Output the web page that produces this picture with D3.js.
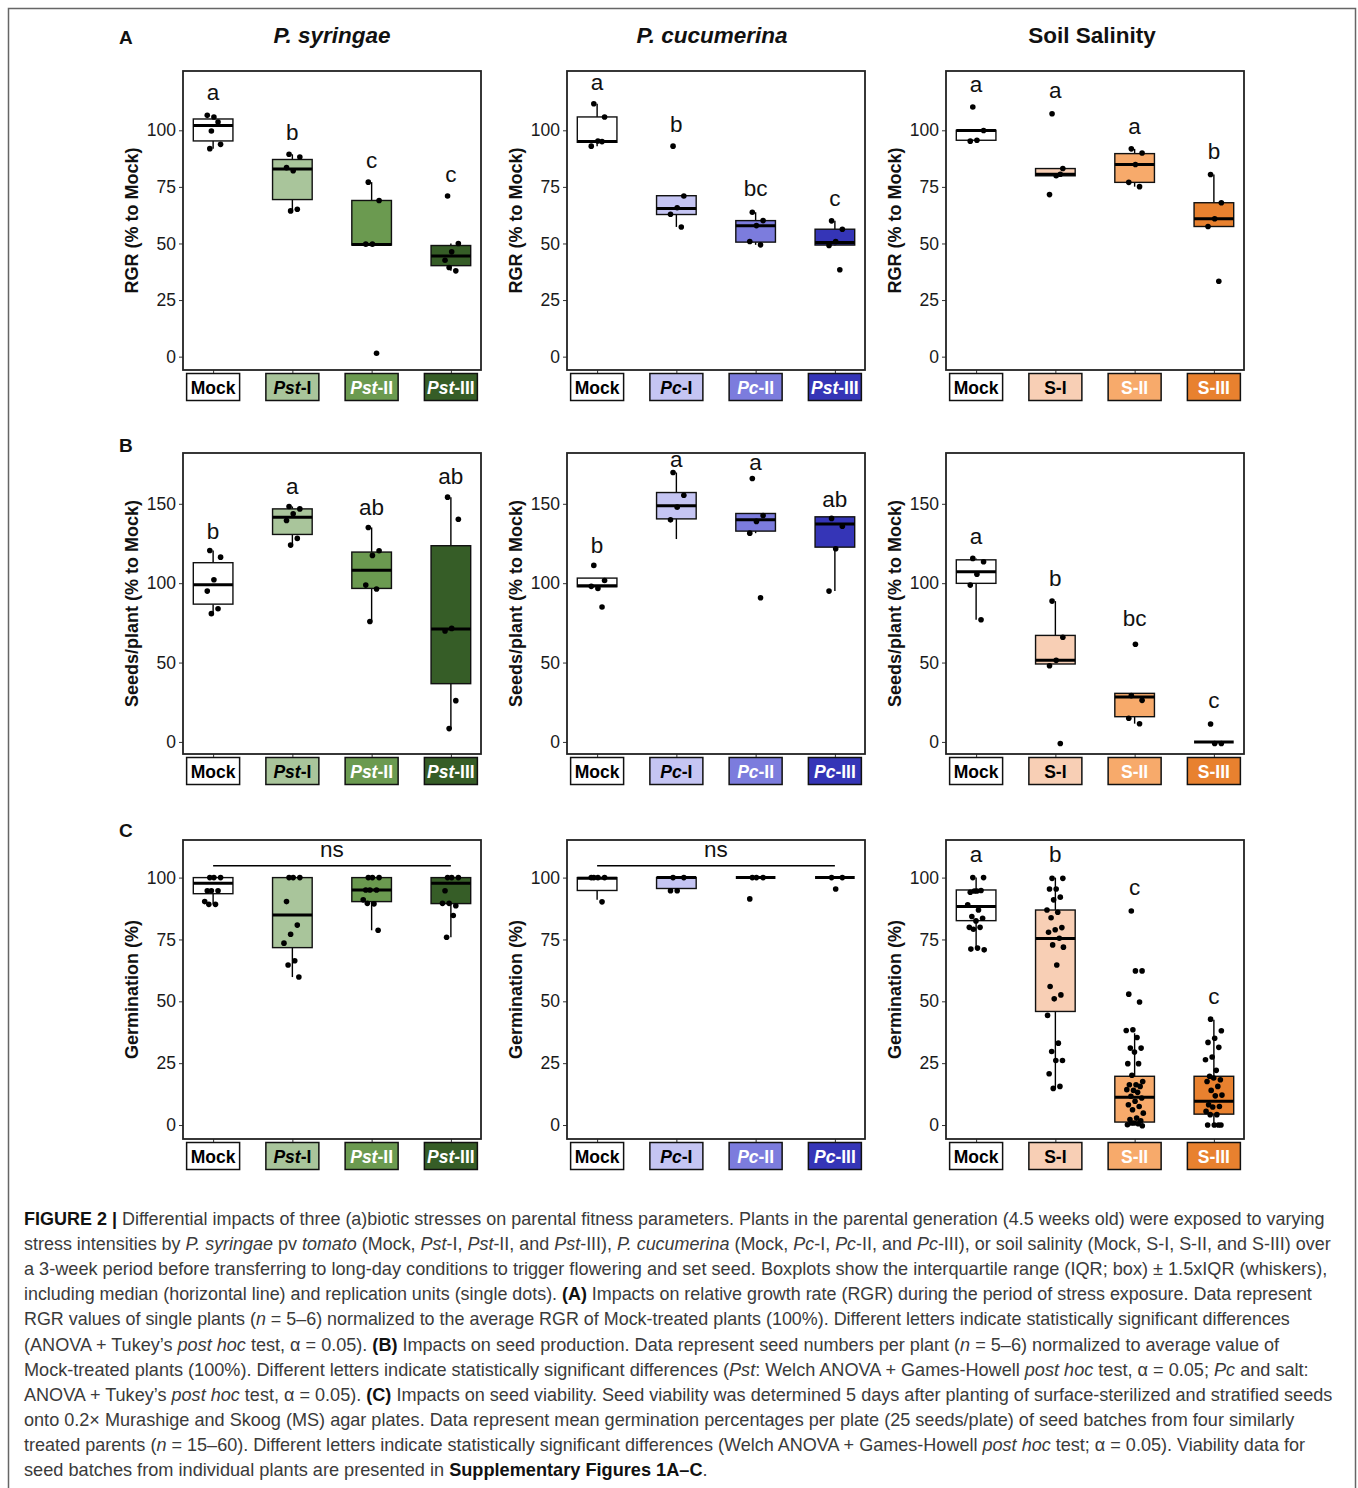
<!DOCTYPE html>
<html lang="en">
<head>
<meta charset="UTF-8">
<title>Figure 2</title>
<script src="https://cdn.jsdelivr.net/npm/d3@7"></script>
<style>
body { margin: 0; background: #fff; }
svg text { font-family: "Liberation Sans", Arial, Helvetica, sans-serif; }
</style>
</head>
<body>
<svg id="fig" width="1358" height="1488"></svg>
<script>
// ---- groups / labels ----
var pstGroups = ["Mock", "Pst-I", "Pst-II", "Pst-III"];
var pcGroups = ["Mock", "Pc-I", "Pc-II", "Pc-III"];
var pcGroupsA = ["Mock", "Pc-I", "Pc-II", "Pst-III"]; // as printed in panel A
var saltGroups = ["Mock", "S-I", "S-II", "S-III"];

var pstColors = ["#ffffff", "#a9c59b", "#6b9a50", "#365d27"];
var pcColors = ["#ffffff", "#c5c5f3", "#7c7cdd", "#3535b7"];
var saltColors = ["#ffffff", "#f8cfb5", "#f7aa6b", "#e8812f"];

var colTitles = ["P. syringae", "P. cucumerina", "Soil Salinity"];
var rowLetters = ["A", "B", "C"];
var yLabels = ["RGR (% to Mock)", "Seeds/plant (% to Mock)", "Germination (%)"];
var yTicksA = [0, 25, 50, 75, 100];
var yTicksB = [0, 50, 100, 150];
var yTicksC = [0, 25, 50, 75, 100];

// box stats: [lower whisker, q1, median, q3, upper whisker]
// ---- A: RGR ----
var rgrPstBox = [[91.9, 95.3, 102.1, 105, 106.6], [64.4, 69.4, 82.9, 87.1, 89.4], [49.3, 49.3, 49.6, 69, 77.1], [37.9, 40.2, 44.5, 49.1, 50]];
var rgrPstPts = [[91.9, 93.8, 105.9, 106.6, 103.7, 99.7], [89.4, 88.2, 82.1, 83.5, 65.1, 64.4], [77.1, 69, 49.7, 49.7, 1.5], [71, 50, 46.3, 42.6, 37.9, 39.4]];
var rgrPstLetters = [["a", 113.2], ["b", 95.9], ["c", 83.5], ["c", 77.2]];

var rgrPcBox = [[93, 94.7, 95, 105.9, 111.7], [57.3, 62.8, 65.5, 71.1, 71.1], [49.4, 50.6, 57.8, 60.1, 63.8], [49.1, 49.3, 50.4, 56.3, 60]];
var rgrPcPts = [[111.7, 105.9, 95.3, 93, 95], [93, 71, 65.8, 62.9, 57.3], [63.8, 60.1, 57.9, 50.9, 49.4], [60, 56.3, 50.9, 49.1, 38.4]];
var rgrPcLetters = [["a", 117.6], ["b", 99.3], ["bc", 70.9], ["c", 66.6]];

var rgrSaltBox = [[95.6, 95.6, 99.9, 100, 100], [79.9, 79.9, 80.6, 83.1, 83.1], [75.1, 77, 84.9, 89.7, 91.8], [57.5, 57.5, 60.9, 68, 80.5]];
var rgrSaltPts = [[110.3, 99.9, 95.6, 95.2], [107.3, 83.1, 79.9, 71.6, 80.6], [91.8, 90, 84.9, 77, 75.1], [80.5, 68, 60.9, 57.5, 33.3]];
var rgrSaltLetters = [["a", 116.9], ["a", 114.3], ["a", 98.2], ["b", 87.5]];

// ---- B: seeds per plant ----
var seedPstBox = [[80.8, 86.8, 99, 112.9, 120.6], [124, 130.7, 141.6, 146.8, 148.3], [75.9, 96.7, 108.2, 119.6, 135.1], [8.4, 36.7, 71.1, 123.6, 154.2]];
var seedPstPts = [[120.6, 116.4, 102.2, 95, 83.9, 80.8], [148.3, 146.8, 143.7, 139.5, 128.2, 124], [135.1, 120.4, 117.5, 98.8, 96.3, 75.9], [154.2, 140.3, 71.5, 69.9, 26, 8.4]];
var seedPstLetters = [["b", 128.1], ["a", 156.4], ["ab", 143.1], ["ab", 162.5]];

var seedPcBox = [[97.8, 97.8, 98.4, 103.2, 103.2], [127.8, 140.5, 148.7, 157.1, 169.7], [131.5, 132.8, 139.9, 143.9, 143.9], [95, 122.7, 137.2, 141.8, 141.8]];
var seedPcPts = [[111.2, 101.7, 96.7, 98, 85], [169.7, 155.4, 147.9, 139.9], [165.9, 142.6, 138.9, 131.5, 90.8], [140.8, 135.9, 121.7, 95]];
var seedPcLetters = [["b", 119], ["a", 173.2], ["a", 171.5], ["ab", 148]];

var seedSaltBox = [[77, 99.9, 107.2, 114.7, 115.6], [49.1, 49.1, 51.4, 67.1, 88.7], [11.5, 15.9, 28.3, 30.6, 30.6], [0, 0, 0, 0, 0]];
var seedSaltPts = [[115.6, 113.5, 105.7, 98.8, 77], [88.7, 65.9, 51.4, 48, -1], [29.2, 26.2, 61.5, 14.9, 11.5], [11.3, -1, -1]];
var seedSaltLetters = [["a", 124.7], ["b", 98], ["bc", 73.2], ["c", 21.4]];

// ---- C: germination ----
var germPstBox = [[89.2, 93.5, 97.7, 100, 100], [59.8, 71.7, 84.9, 100, 100], [78.7, 90.3, 95, 100, 100], [75.9, 89.5, 97.7, 100, 100]];
var germPstPts = [
  [100, 100, 100, 94.7, 94.7, 94.7, 90.3, 89.2, 89.2],
  [100, 100, 100, 90.3, 80.8, 77.1, 73.5, 66.4, 64.7, 59.8],
  [100, 100, 100, 95, 95, 95, 91, 89.4, 89.6, 78.7],
  [100, 100, 100, 94.7, 88.6, 89.6, 89.6, 84.7, 75.9]
];
var germPcBox = [[91, 94.8, 99.7, 100, 100], [95.6, 95.6, 100, 100, 100], [100, 100, 100, 100, 100], [100, 100, 100, 100, 100]];
var germPcPts = [[100, 100, 100, 100, 90.2], [100, 100, 94.7, 94.7], [100, 100, 100, 91.4], [100, 100, 95.4]];
var germSaltBox = [[71.1, 82.6, 88.3, 95, 100], [14.9, 45.9, 75.4, 86.9, 100], [0, 1.2, 11.2, 19.7, 37.1], [0, 4.4, 9.6, 19.7, 42.5]];
var germSaltPts = [
  [100, 100, 94.6, 94.1, 94.8, 94.6, 89, 86.9, 84.3, 83.6, 82.5, 79.9, 79.9, 79.1, 70.8, 71.5, 71.1],
  [99.7, 99.7, 95.4, 95.4, 92.1, 91, 86.9, 86, 83.8, 79.8, 78.9, 77.9, 75.5, 72.8, 71.9, 64.7, 56, 52.6, 51, 44.3, 33.1, 29.7, 26.1, 26.1, 20.7, 15.6, 14.8],
  [86.5, 62.3, 62.3, 52.9, 49.7, 38.5, 38.2, 35.4, 31.1, 31.1, 29.5, 24.8, 24.8, 20.1, 17.6, 16.3, 16.3, 15.6, 14, 14.3, 13.2, 11.6, 10.9, 9.6, 8.2, 7.5, 6.2, 4.8, 2.8, 2.2, 1.7, 0.8, 0.1, 0.5, 0.8, -0.3],
  [42.8, 38.1, 35.1, 33.4, 31.4, 27.5, 26.4, 22.1, 19.7, 18.3, 19, 17.6, 15.6, 14, 12.1, 11.8, 8.2, 7.5, 7.3, 5.5, 4.2, 4.2, 0, 0, 0, 0]
];
var germSaltLetters = [["a", 106.4], ["b", 106.2], ["c", 93], ["c", 48.8]];
var nsLine = 104.8, nsText = 108.4;

// ---- caption lines: [style, text] ----
var caption = [
  [["b", "FIGURE 2 | "], ["", "Differential impacts of three (a)biotic stresses on parental fitness parameters. Plants in the parental generation (4.5 weeks old) were exposed to varying"]],
  [["", "stress intensities by "], ["i", "P. syringae"], ["", " pv "], ["i", "tomato"], ["", " (Mock, "], ["i", "Pst"], ["", "-I, "], ["i", "Pst"], ["", "-II, and "], ["i", "Pst"], ["", "-III), "], ["i", "P. cucumerina"], ["", " (Mock, "], ["i", "Pc"], ["", "-I, "], ["i", "Pc"], ["", "-II, and "], ["i", "Pc"], ["", "-III), or soil salinity (Mock, S-I, S-II, and S-III) over"]],
  [["", "a 3-week period before transferring to long-day conditions to trigger flowering and set seed. Boxplots show the interquartile range (IQR; box) \u00b1 1.5xIQR (whiskers),"]],
  [["", "including median (horizontal line) and replication units (single dots). "], ["b", "(A)"], ["", " Impacts on relative growth rate (RGR) during the period of stress exposure. Data represent"]],
  [["", "RGR values of single plants ("], ["i", "n"], ["", " = 5\u20136) normalized to the average RGR of Mock-treated plants (100%). Different letters indicate statistically significant differences"]],
  [["", "(ANOVA + Tukey\u2019s "], ["i", "post hoc"], ["", " test, \u03b1 = 0.05). "], ["b", "(B)"], ["", " Impacts on seed production. Data represent seed numbers per plant ("], ["i", "n"], ["", " = 5\u20136) normalized to average value of"]],
  [["", "Mock-treated plants (100%). Different letters indicate statistically significant differences ("], ["i", "Pst"], ["", ": Welch ANOVA + Games-Howell "], ["i", "post hoc"], ["", " test, \u03b1 = 0.05; "], ["i", "Pc"], ["", " and salt:"]],
  [["", "ANOVA + Tukey\u2019s "], ["i", "post hoc"], ["", " test, \u03b1 = 0.05). "], ["b", "(C)"], ["", " Impacts on seed viability. Seed viability was determined 5 days after planting of surface-sterilized and stratified seeds"]],
  [["", "onto 0.2\u00d7 Murashige and Skoog (MS) agar plates. Data represent mean germination percentages per plate (25 seeds/plate) of seed batches from four similarly"]],
  [["", "treated parents ("], ["i", "n"], ["", " = 15\u201360). Different letters indicate statistically significant differences (Welch ANOVA + Games-Howell "], ["i", "post hoc"], ["", " test; \u03b1 = 0.05). Viability data for"]],
  [["", "seed batches from individual plants are presented in "], ["b", "Supplementary Figures 1A\u2013C"], ["", "."]]
];
var captionEnds = [1325, 1331, 1328, 1313, 1292, 1280, 1310, 1333, 1296, 1306, 708];

// ---- layout ----
var svg = d3.select("#fig");
var colLeft = [183, 567, 946];
var panelW = 298;
var rows = [
  { top: 71, h: 299, domain: [-5.9, 126.2], ticks: yTicksA },
  { top: 453, h: 301, domain: [-7.6, 182], ticks: yTicksB },
  { top: 840, h: 299, domain: [-5.65, 115.2], ticks: yTicksC }
];

svg.append("rect").attr("x", 8.5).attr("y", 8.5).attr("width", 1347).attr("height", 1500)
  .attr("fill", "none").attr("stroke", "#666").attr("stroke-width", 1.5);

function jitter(i) { return ((i * 0.618034 + 0.31) % 1 - 0.5) * 0.22; }

function drawPanel(r, c, groups, colors, box, pts, letters, ns) {
  var R = rows[r], left = colLeft[c];
  var x = d3.scalePoint().domain(groups).range([left, left + panelW]).padding(0.38);
  var y = d3.scaleLinear().domain(R.domain).range([R.top + R.h, R.top]);
  var step = x.step(), bw = step * 0.25;
  var g = svg.append("g");

  // y axis
  var ya = g.append("g").attr("transform", "translate(" + left + ",0)")
    .call(d3.axisLeft(y).tickValues(R.ticks).tickSize(4).tickPadding(3));
  ya.select(".domain").remove();
  ya.selectAll("line").attr("stroke", "#333");
  ya.selectAll("text").style("font-size", "17.5px").attr("fill", "#1a1a1a");

  // x ticks
  var xa = g.append("g").attr("transform", "translate(0," + (R.top + R.h) + ")")
    .call(d3.axisBottom(x).tickSize(3).tickFormat(""));
  xa.select(".domain").remove();
  xa.selectAll("line").attr("stroke", "#333");

  // boxes
  groups.forEach(function (grp, i) {
    var s = box[i], cx = x(grp);
    g.append("line").attr("x1", cx).attr("x2", cx).attr("y1", y(s[0])).attr("y2", y(s[1]))
      .attr("stroke", "#000").attr("stroke-width", 1.4);
    g.append("line").attr("x1", cx).attr("x2", cx).attr("y1", y(s[3])).attr("y2", y(s[4]))
      .attr("stroke", "#000").attr("stroke-width", 1.4);
    g.append("rect").attr("x", cx - bw).attr("width", bw * 2)
      .attr("y", y(s[3])).attr("height", Math.max(0, y(s[1]) - y(s[3])))
      .attr("fill", colors[i]).attr("stroke", "#111").attr("stroke-width", 1.4);
    g.append("line").attr("x1", cx - bw).attr("x2", cx + bw).attr("y1", y(s[2])).attr("y2", y(s[2]))
      .attr("stroke", "#000").attr("stroke-width", 3);
  });

  // points
  groups.forEach(function (grp, i) {
    g.selectAll(null).data(pts[i]).enter().append("circle")
      .attr("cx", function (d, j) { return x(grp) + jitter(j) * step; })
      .attr("cy", function (d) { return y(d); })
      .attr("r", 2.8).attr("fill", "#000");
  });

  // letters
  if (letters) {
    groups.forEach(function (grp, i) {
      g.append("text").attr("x", x(grp)).attr("y", y(letters[i][1]))
        .attr("text-anchor", "middle").style("font-size", "22.5px").attr("fill", "#111")
        .text(letters[i][0]);
    });
  }
  if (ns) {
    var x0 = x(groups[0]), x1 = x(groups[groups.length - 1]);
    g.append("line").attr("x1", x0).attr("x2", x1).attr("y1", y(nsLine)).attr("y2", y(nsLine))
      .attr("stroke", "#000").attr("stroke-width", 1.5);
    g.append("text").attr("x", (x0 + x1) / 2).attr("y", y(nsText)).attr("text-anchor", "middle")
      .style("font-size", "22.5px").attr("fill", "#111").text("ns");
  }

  // panel border
  g.append("rect").attr("x", left).attr("y", R.top).attr("width", panelW).attr("height", R.h)
    .attr("fill", "none").attr("stroke", "#222").attr("stroke-width", 1.8);

  // category label boxes
  var lt = R.top + R.h + 3.5;
  groups.forEach(function (grp, i) {
    var cx = x(grp);
    g.append("rect").attr("x", cx - 26.5).attr("y", lt).attr("width", 53).attr("height", 27)
      .attr("fill", colors[i]).attr("stroke", "#111").attr("stroke-width", 1.5);
    var t = g.append("text").attr("x", cx).attr("y", lt + 20).attr("text-anchor", "middle")
      .style("font-size", "17.5px").style("font-weight", "bold")
      .attr("fill", i >= 2 ? "#fff" : "#000");
    var m = grp.match(/^(Pst|Pc)(-.*)$/);
    if (m) {
      t.append("tspan").style("font-style", "italic").text(m[1]);
      t.append("tspan").text(m[2]);
    } else {
      t.text(grp);
    }
  });

  // y label
  g.append("text").attr("transform", "translate(" + (left - 51) + "," + (R.top + R.h / 2) + ") rotate(-90)")
    .attr("text-anchor", "middle").attr("dominant-baseline", "central")
    .style("font-size", "18px").style("font-weight", "bold").attr("fill", "#111")
    .text(yLabels[r]);
}

drawPanel(0, 0, pstGroups, pstColors, rgrPstBox, rgrPstPts, rgrPstLetters, false);
drawPanel(0, 1, pcGroupsA, pcColors, rgrPcBox, rgrPcPts, rgrPcLetters, false);
drawPanel(0, 2, saltGroups, saltColors, rgrSaltBox, rgrSaltPts, rgrSaltLetters, false);
drawPanel(1, 0, pstGroups, pstColors, seedPstBox, seedPstPts, seedPstLetters, false);
drawPanel(1, 1, pcGroups, pcColors, seedPcBox, seedPcPts, seedPcLetters, false);
drawPanel(1, 2, saltGroups, saltColors, seedSaltBox, seedSaltPts, seedSaltLetters, false);
drawPanel(2, 0, pstGroups, pstColors, germPstBox, germPstPts, null, true);
drawPanel(2, 1, pcGroups, pcColors, germPcBox, germPcPts, null, true);
drawPanel(2, 2, saltGroups, saltColors, germSaltBox, germSaltPts, germSaltLetters, false);

// column titles
var titleShift = [0, -4, -3];
colTitles.forEach(function (t, c) {
  svg.append("text").attr("x", colLeft[c] + panelW / 2 + titleShift[c]).attr("y", 43)
    .attr("text-anchor", "middle").style("font-size", "22.5px").style("font-weight", "bold")
    .style("font-style", c < 2 ? "italic" : "normal").attr("fill", "#111").text(t);
});

// row letters
var letterY = [44, 452, 837];
rowLetters.forEach(function (L, r) {
  svg.append("text").attr("x", 119).attr("y", letterY[r]).style("font-size", "19px")
    .style("font-weight", "bold").attr("fill", "#111").text(L);
});

// caption
caption.forEach(function (line, k) {
  var t = svg.append("text").attr("x", 0).attr("y", 0)
    .style("font-family", "'Liberation Sans Narrow', 'Liberation Sans', Arial, sans-serif")
    .style("font-size", "18px").attr("fill", "#3a3a3a");
  line.forEach(function (seg) {
    var sp = t.append("tspan").text(seg[1]);
    if (seg[0] === "b") sp.style("font-weight", "bold").attr("fill", "#111");
    if (seg[0] === "i") sp.style("font-style", "italic");
  });
  var len = t.node().getComputedTextLength();
  var sx = (captionEnds[k] - 24) / len;
  t.attr("transform", "translate(24," + (1225 + k * 25.1) + ") scale(" + sx + ",1)");
});
</script>
</body>
</html>
